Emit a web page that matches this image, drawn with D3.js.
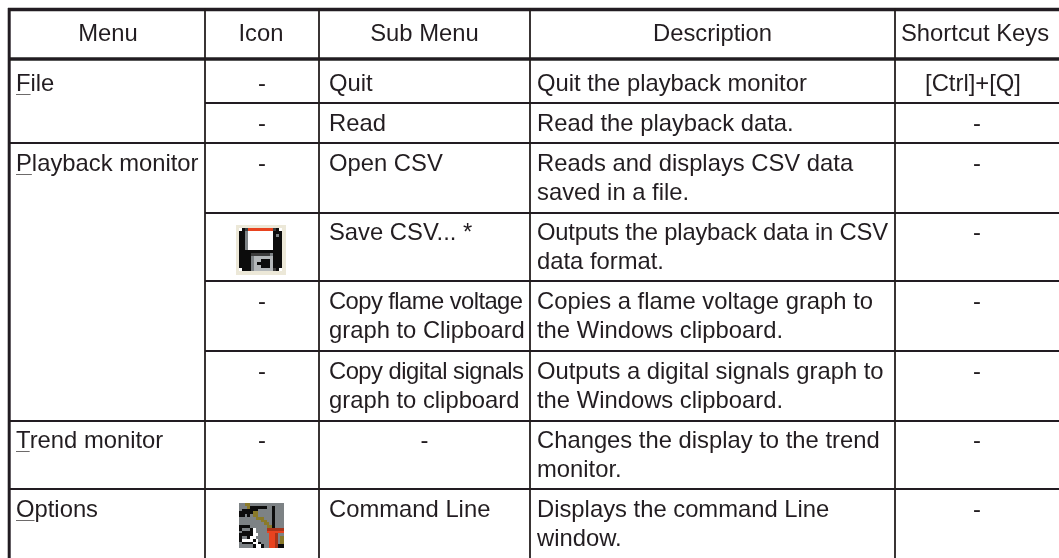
<!DOCTYPE html>
<html>
<head>
<meta charset="utf-8">
<script src="https://cdn.jsdelivr.net/npm/d3@7"></script>
<style>
  html, body { margin: 0; padding: 0; background: #fff; }
  svg { display: block; }
  text { font-family: "Liberation Sans", Arial, sans-serif; font-size: 23.8px; fill: #231f20; }
</style>
</head>
<body>
<div id="table"></div>
<script>
// table content
const headers = ["Menu", "Icon", "Sub Menu", "Description", "Shortcut Keys"];
const menus = [["File", 0], ["", 0], ["Playback monitor", 1], ["", 0], ["", 0], ["", 0], ["Trend monitor", 2], ["Options", 3]];
const icons = ["-", "-", "-", "save", "-", "-", "-", "tool"];
const subMenus = [
    ["Quit"], ["Read"], ["Open CSV"], ["Save CSV... *"],
    ["Copy flame voltage", "graph to Clipboard"],
    ["Copy digital signals", "graph to clipboard"],
    ["-"], ["Command Line"]
];
const descriptions = [
    ["Quit the playback monitor"],
    ["Read the playback data."],
    ["Reads and displays CSV data", "saved in a file."],
    ["Outputs the playback data in CSV", "data format."],
    ["Copies a flame voltage graph to", "the Windows clipboard."],
    ["Outputs a digital signals graph to", "the Windows clipboard."],
    ["Changes the display to the trend", "monitor."],
    ["Displays the command Line", "window."]
];
const shortcuts = ["[Ctrl]+[Q]", "-", "-", "-", "-", "-", "-", "-"];

// toolbar icons, one letter per pixel
const saveIcon = [
    "cccccccccccccccc",
    "cwkdrrrrrrrrdkwc",
    "ckkgwwwwwwwwkkkc",
    "ckkgwwwwwwwwkgkc",
    "ckkgwwwwwwwwkkkc",
    "ckkgwwwwwwwwkkkc",
    "ckkgwwwwwwwwkkkc",
    "ckkgwwwwwwwwkkkc",
    "ckkkkkkkkkkkkkkc",
    "ckkkkddddddgkkkc",
    "ckkkkgllllllkkkc",
    "ckkkkgllkkklkkkc",
    "ckkkkglkkkklkkkc",
    "ckkkkgllkkklkkkc",
    "cwkkkglllllldkwc",
    "cccccccccccccccc"
];
const toolIcon = [
    "ggoogggggggggggg",
    "gggokkkkkkggkggg",
    "gkkkkkkgggggkggg",
    "kkkkkoogggggkggg",
    "kkgkgoogggggkggg",
    "ggggggoooggg" + "kggg",
    "ggggggggooggkggg",
    "gggggggggoogkggg",
    "kkkkggggggookggg",
    "kgggkwggggxxxxxx",
    "gkkkkwggggrrrrrr",
    "kkkkkwwggggrrxgg",
    "kggkwwgggggrrxgo",
    "kwwwwkwggggrrxgo",
    "gkkkkwwkgggrrxgo",
    "gggggkwwkggrrxkk"
];
const iconColors = {
    c: "#ece8d8", w: "#ffffff", k: "#0c0c0c", d: "#3c3c3c", g: "#7d8285",
    l: "#b4b8ba", r: "#e8431f", o: "#8a7a2a", x: "#a8341a"
};

const width = 1059
const height = 558
const lineColor = "#231f20"

const columnEdges = [9, 205, 319, 530, 895, 1059]
const rowEdges = [59, 103, 143, 213, 281, 351, 421, 489, 558]
const baselines = [91, 131, 171, 240, 309, 379, 448, 517]
const lineGap = 29
const textLeft = [16, 0, 329, 537]
// these lines were set tighter than the rest of the table
const tightLines = new Map([
    ["Copy flame voltage", 194],
    ["Copy digital signals", 195],
    ["Outputs the playback data in CSV", 351]
])

const svg = d3.select("#table").append("svg")
    .attr("width", width)
    .attr("height", height)

// the source is a scan, everything but the icons is a little soft
svg.append("filter")
    .attr("id", "soft")
    .append("feGaussianBlur")
    .attr("stdDeviation", 0.35)

const page = svg.append("g").attr("filter", "url(#soft)")

// header row
page.append("g")
    .selectAll("text")
    .data(headers)
    .join("text")
    .attr("x", (d, i) => i == 4 ? 901 : (columnEdges[i] + columnEdges[i + 1]) / 2 + (i == 0 ? 1 : i == 1 ? -1 : 0))
    .attr("y", 41)
    .attr("text-anchor", (d, i) => i == 4 ? "start" : "middle")
    .text(d => d)

// menu names with the underlined access key
const menuText = page.append("g")
    .selectAll("text")
    .data(menus.map((d, i) => ({ name: d[0], row: i })).filter(d => d.name))
    .join("text")
    .attr("x", textLeft[0])
    .attr("y", d => baselines[d.row])
    .text(d => d.name)

menuText.each(function (d) {
    const first = this.getSubStringLength(0, 1)
    page.append("line")
        .attr("x1", textLeft[0])
        .attr("x2", textLeft[0] + first)
        .attr("y1", baselines[d.row] + 3.5)
        .attr("y2", baselines[d.row] + 3.5)
        .attr("stroke", "#6d6a6b")
        .attr("stroke-width", 1)
})

function drawLines(rows, column, x, anchor) {
    const cells = []
    rows.forEach((lines, row) => lines.forEach((text, n) => {
        cells.push({ text, row, n })
    }))
    page.append("g")
        .selectAll("text")
        .data(cells)
        .join("text")
        .attr("x", d => d.text == "-" ? (columnEdges[column] + columnEdges[column + 1]) / 2 : x)
        .attr("y", d => baselines[d.row] + d.n * lineGap)
        .attr("text-anchor", d => d.text == "-" ? "middle" : anchor)
        .attr("textLength", d => tightLines.get(d.text))
        .text(d => d.text)
}

drawLines(icons.map(d => d == "-" ? [d] : []), 1, 0, "middle")
drawLines(subMenus, 2, textLeft[2], "start")
drawLines(descriptions, 3, textLeft[3], "start")
drawLines(shortcuts.map(d => [d]), 4, 973, "middle")

// grid lines: [x1, x2, y1, y2, stroke width]
const thin = 1.8
const gridLines = []
rowEdges.slice(0, -1).forEach((y, i) => {
    // menu column stays open over the rows it spans
    const spanned = i == 1 || i == 3 || i == 4 || i == 5
    gridLines.push([spanned ? columnEdges[1] : columnEdges[0], width, y, y, i == 0 ? 3.6 : thin])
})
gridLines.push([8, width, 9.5, 9.5, 3.6])
gridLines.push([9.2, 9.2, 8, height, 3])
columnEdges.slice(1, -1).forEach(x => gridLines.push([x, x, 8, height, thin]))

page.append("g")
    .selectAll("line")
    .data(gridLines)
    .join("line")
    .attr("x1", d => d[0])
    .attr("x2", d => d[1])
    .attr("y1", d => d[2])
    .attr("y2", d => d[3])
    .attr("stroke", lineColor)
    .attr("stroke-width", d => d[4])

// icons as pixel grids
function drawIcon(pixels, x0, y0, size) {
    const x = d3.scaleLinear([0, 16], [x0, x0 + size])
    const y = d3.scaleLinear([0, 16], [y0, y0 + size])
    const cells = pixels.flatMap((row, r) => row.split("").map((c, i) => ({ c, i, r })))
    svg.append("g")
        .attr("shape-rendering", "crispEdges")
        .selectAll("rect")
        .data(cells)
        .join("rect")
        .attr("x", d => x(d.i))
        .attr("y", d => y(d.r))
        .attr("width", x(1) - x(0) + 0.5)
        .attr("height", y(1) - y(0) + 0.5)
        .attr("fill", d => iconColors[d.c])
}
drawIcon(saveIcon, 236, 225, 49)
drawIcon(toolIcon, 239, 503, 44)
</script>
</body>
</html>
